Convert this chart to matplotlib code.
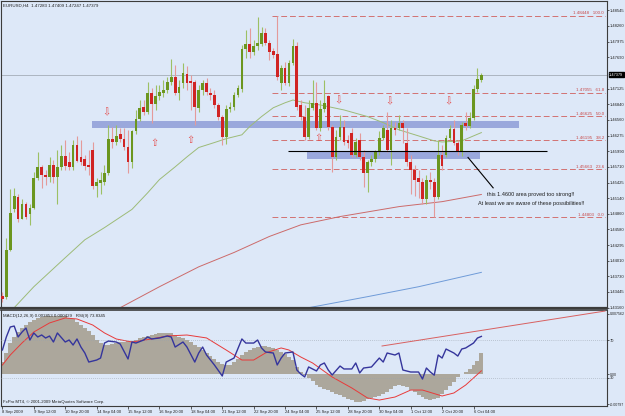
import matplotlib
matplotlib.use("Agg")
import matplotlib.pyplot as plt
import matplotlib.transforms as mtransforms
from matplotlib.patches import Rectangle
import numpy as np

plt.rcParams['font.family'] = ['Liberation Sans', 'DejaVu Sans']

# ---------------- data (EURUSD H4) ----------------
opens = [1.4338, 1.4335, 1.4421, 1.4495, 1.4517, 1.4477, 1.4504, 1.4485, 1.4497, 1.4551,
         1.4571, 1.4557, 1.4553, 1.4575, 1.4553, 1.4571, 1.4591, 1.4580, 1.4571, 1.4611,
         1.4588, 1.4586, 1.4575, 1.4602, 1.4537, 1.4542, 1.4544, 1.4560, 1.4622, 1.4616,
         1.4631, 1.4622, 1.4607, 1.4579, 1.4635, 1.4658, 1.4680, 1.4671, 1.4705, 1.4685,
         1.4700, 1.4705, 1.4710, 1.4725, 1.4734, 1.4705, 1.4723, 1.4739, 1.4727, 1.4725,
         1.4678, 1.4710, 1.4723, 1.4705, 1.4701, 1.4683, 1.4662, 1.4625, 1.4676, 1.4680,
         1.4701, 1.4712, 1.4785, 1.4794, 1.4779, 1.4790, 1.4794, 1.4813, 1.4795, 1.4781,
         1.4775, 1.4723, 1.4750, 1.4723, 1.4759, 1.4790, 1.4683, 1.4662, 1.4625, 1.4678,
         1.4687, 1.4642, 1.4676, 1.4700, 1.4644, 1.4589, 1.4625, 1.4644, 1.4620, 1.4633,
         1.4593, 1.4620, 1.4589, 1.4560, 1.4579, 1.4586, 1.4597, 1.4624, 1.4638, 1.4602,
         1.4642, 1.4642, 1.4651, 1.4615, 1.4579, 1.4566, 1.4550, 1.4544, 1.4513, 1.4548,
         1.4544, 1.4517, 1.4593, 1.4593, 1.4624, 1.4640, 1.4615, 1.4597, 1.4651, 1.4645,
         1.4660, 1.4712, 1.47283]
highs = [1.4344, 1.4443, 1.4530, 1.4533, 1.4521, 1.4512, 1.4508, 1.4503, 1.4562, 1.4598,
         1.4575, 1.4566, 1.4588, 1.4584, 1.4602, 1.4611, 1.4620, 1.4598, 1.4620, 1.4627,
         1.4620, 1.4593, 1.4602, 1.4616, 1.4551, 1.4562, 1.4575, 1.4647, 1.4644, 1.4647,
         1.4642, 1.4642, 1.4638, 1.4638, 1.4674, 1.4692, 1.4692, 1.4725, 1.4714, 1.4719,
         1.4719, 1.4728, 1.4734, 1.4766, 1.4756, 1.4728, 1.4759, 1.4754, 1.4738, 1.4728,
         1.4719, 1.4728, 1.4732, 1.4714, 1.4710, 1.4687, 1.4665, 1.4683, 1.4689, 1.4707,
         1.4719, 1.4792, 1.4819, 1.4822, 1.4801, 1.4842, 1.4824, 1.4822, 1.4801, 1.4786,
         1.48448, 1.4756, 1.4761, 1.4765, 1.4803, 1.4797, 1.4692, 1.4683, 1.4692, 1.4728,
         1.4725, 1.4692, 1.4728, 1.4701, 1.4647, 1.4638, 1.4665, 1.4656, 1.4629, 1.4642,
         1.4624, 1.4633, 1.4602, 1.4584, 1.4593, 1.4602, 1.4635, 1.4647, 1.4671, 1.4656,
         1.4653, 1.4665, 1.4656, 1.4642, 1.4593, 1.4575, 1.4566, 1.4551, 1.4557, 1.4562,
         1.4551, 1.4620, 1.4611, 1.4629, 1.4647, 1.4656, 1.4620, 1.4653, 1.4671, 1.4671,
         1.4719, 1.4750, 1.47409]
lows = [1.4327, 1.4331, 1.4418, 1.4490, 1.4472, 1.4476, 1.4476, 1.4466, 1.4494, 1.4548,
        1.4533, 1.4539, 1.4544, 1.4541, 1.4503, 1.4566, 1.4566, 1.4566, 1.4566, 1.4579,
        1.4575, 1.4566, 1.4557, 1.4530, 1.4517, 1.4521, 1.4539, 1.4557, 1.4606, 1.4611,
        1.4616, 1.4602, 1.4560, 1.4569, 1.4631, 1.4654, 1.4665, 1.4667, 1.4651, 1.4674,
        1.4692, 1.4698, 1.4705, 1.4719, 1.4701, 1.4692, 1.4714, 1.4710, 1.4674, 1.4647,
        1.4671, 1.4701, 1.4701, 1.4692, 1.4678, 1.4656, 1.4611, 1.4613, 1.4671, 1.4674,
        1.4698, 1.4707, 1.4768, 1.4768, 1.4774, 1.4783, 1.4790, 1.4792, 1.4765, 1.4768,
        1.4728, 1.4710, 1.4719, 1.4718, 1.4756, 1.4674, 1.4656, 1.4620, 1.4622, 1.4674,
        1.4638, 1.4635, 1.4671, 1.4638, 1.4562, 1.4584, 1.4620, 1.4611, 1.4606, 1.4588,
        1.4588, 1.4584, 1.4535, 1.4526, 1.4573, 1.4580, 1.4593, 1.4620, 1.4598, 1.4575,
        1.4629, 1.4638, 1.4615, 1.4573, 1.4521, 1.4519, 1.4515, 1.4503, 1.4503, 1.4530,
        1.44803, 1.4513, 1.4566, 1.4588, 1.4620, 1.4611, 1.4593, 1.4591, 1.4638, 1.4642,
        1.4656, 1.4707, 1.47247]
closes = [1.4331, 1.4421, 1.4488, 1.4519, 1.4477, 1.4504, 1.4481, 1.4497, 1.4550, 1.4571,
          1.4557, 1.4553, 1.4575, 1.4553, 1.4571, 1.4591, 1.4573, 1.4571, 1.4611, 1.4582,
          1.4580, 1.4573, 1.4571, 1.4537, 1.4544, 1.4548, 1.4560, 1.4622, 1.4616, 1.4627,
          1.4622, 1.4607, 1.4579, 1.4635, 1.4658, 1.4678, 1.4671, 1.4705, 1.4685, 1.4700,
          1.4707, 1.4710, 1.4725, 1.4734, 1.4705, 1.4716, 1.4741, 1.4723, 1.4723, 1.4680,
          1.4710, 1.4723, 1.4707, 1.4701, 1.4683, 1.4662, 1.4625, 1.4676, 1.4680, 1.4701,
          1.4714, 1.4785, 1.4794, 1.4779, 1.4790, 1.4795, 1.4813, 1.4795, 1.4779, 1.4774,
          1.4734, 1.4750, 1.4723, 1.4759, 1.4790, 1.4680, 1.4662, 1.4625, 1.4678, 1.4687,
          1.4642, 1.4676, 1.4687, 1.4644, 1.4589, 1.4625, 1.4644, 1.4616, 1.4615, 1.4593,
          1.4616, 1.4589, 1.4560, 1.4579, 1.4586, 1.4597, 1.4624, 1.4642, 1.4602, 1.4642,
          1.4638, 1.4651, 1.4642, 1.4579, 1.4566, 1.4548, 1.4544, 1.4513, 1.4548, 1.4544,
          1.4517, 1.4593, 1.4573, 1.4624, 1.4640, 1.4615, 1.4597, 1.4647, 1.4645, 1.4660,
          1.4712, 1.4730, 1.47379]

# moving averages (bar index, price)
ma_green_bars = [3, 8, 15, 21, 26, 33, 37, 40, 44, 47, 50, 54, 57, 61, 63, 66, 69, 72, 74,
                 77, 81, 87, 93, 97, 101, 106, 110, 112, 117, 122]
ma_green = [1.4316, 1.4354, 1.4400, 1.4439, 1.4461, 1.4494, 1.4524, 1.4548, 1.4571, 1.4589,
            1.4606, 1.4615, 1.4622, 1.4629, 1.4644, 1.4662, 1.4678, 1.4687, 1.4692, 1.4687,
            1.4683, 1.4674, 1.4662, 1.4651, 1.4638, 1.4627, 1.4618, 1.4616, 1.4618, 1.4633]
ma_red_bars = [30, 40, 50, 59, 68, 76, 86, 101, 112, 122]
ma_red = [1.4316, 1.4354, 1.4390, 1.4416, 1.4445, 1.4466, 1.4481, 1.4499, 1.4508, 1.4521]
ma_blue_bars = [78, 93, 106, 114, 122]
ma_blue = [1.4316, 1.4336, 1.4354, 1.4367, 1.4380]

# Fibonacci retracement
fib_prices = [1.48448, 1.47055, 1.46625, 1.46195, 1.45663, 1.44803]
fib_labels = ["100.0", "61.8", "50.0", "38.2", "23.6", "0.0"]
fib_start_bar = 68.7

# zones / drawn objects (bar index, price)
zone_upper = dict(b0=22.8, b1=131.6, p0=1.4642, p1=1.4654)
zone_lower = dict(b0=77.6, b1=121.6, p0=1.4586, p1=1.4597)
level_line = dict(b0=72.7, b1=138.7, p=1.4600)
pointer_bars = [118.6, 125.0]
pointer_prices = [1.4588, 1.4533]

down_arrow_bars = [26.6, 85.5, 98.5, 113.5]
down_arrow_prices = [1.4669, 1.4692, 1.4689, 1.4689]
up_arrow_bars = [38.6, 47.8, 80.4]
up_arrow_prices = [1.4615, 1.4620, 1.4624]

y_ticks = [1.48545, 1.48260, 1.47975, 1.47690, 1.47125, 1.46840, 1.46560, 1.46275,
           1.45990, 1.45710, 1.45425, 1.45140, 1.44860, 1.44580, 1.44295, 1.44010,
           1.43730, 1.43445, 1.43160]

x_label_bars = [0, 8, 16, 24, 32, 40, 48, 56, 64, 72, 80, 88, 96, 104, 112, 120]
x_labels = ["8 Sep 2009", "9 Sep 12:00", "10 Sep 20:00", "14 Sep 04:00", "15 Sep 12:00",
            "16 Sep 20:00", "18 Sep 04:00", "21 Sep 12:00", "22 Sep 20:00", "24 Sep 04:00",
            "25 Sep 12:00", "28 Sep 20:00", "30 Sep 04:00", "1 Oct 12:00", "2 Oct 20:00",
            "6 Oct 04:00"]

# MACD histogram (one per bar) and signal line
macd_hist = [0.00163, 0.00286, 0.00422, 0.00503, 0.00571, 0.00626, 0.00666, 0.00707, 0.00734, 0.00762,
             0.00775, 0.00789, 0.00789, 0.00789, 0.00789, 0.00789, 0.00789, 0.00762, 0.00748, 0.00707,
             0.00666, 0.00626, 0.00585, 0.0053, 0.00462, 0.00422, 0.00394, 0.00394, 0.00408, 0.00422,
             0.00435, 0.00435, 0.00449, 0.00449, 0.00462, 0.0049, 0.00503, 0.00517, 0.0053, 0.00544,
             0.00558, 0.00558, 0.00558, 0.00558, 0.0053, 0.00503, 0.0049, 0.00462, 0.00435, 0.00394,
             0.00367, 0.00326, 0.00286, 0.00245, 0.00204, 0.00163, 0.00136, 0.00122, 0.00122, 0.00163,
             0.00204, 0.00258, 0.00299, 0.00326, 0.00354, 0.00367, 0.00381, 0.00381, 0.00367, 0.00354,
             0.00326, 0.00299, 0.00272, 0.00231, 0.0019, 0.00095, 0.00027, -0.00014, -0.00054, -0.00095,
             -0.0015, -0.00177, -0.00204, -0.00218, -0.00245, -0.00272, -0.00286, -0.00313, -0.0034, -0.00354,
             -0.00381, -0.00381, -0.00367, -0.0034, -0.00326, -0.00313, -0.00299, -0.00272, -0.00245, -0.00204,
             -0.00163, -0.0015, -0.00163, -0.00177, -0.00218, -0.00245, -0.00286, -0.00313, -0.0034, -0.00354,
             -0.0034, -0.00326, -0.00272, -0.00218, -0.00163, -0.00109, -0.00041, 0.0, 0.00027, 0.00068,
             0.00122, 0.00177, 0.00286]
signal_bars = [0, 2, 5, 8, 12, 16, 19, 23, 26, 29, 33, 38, 42, 47, 52, 57, 61, 64, 67, 71, 73,
               76, 79, 84, 89, 93, 96, 100, 104, 107, 112, 115, 118, 122]
signal = [0.00122, 0.00258, 0.00422, 0.00571, 0.00694, 0.00762, 0.00748, 0.00666, 0.00558,
          0.00476, 0.00435, 0.00476, 0.00517, 0.0053, 0.0049, 0.00326, 0.0019, 0.0019, 0.00286,
          0.00354, 0.00326, 0.00231, 0.0015, -0.00041, -0.0019, -0.00326, -0.00354, -0.00313,
          -0.00218, -0.00218, -0.00299, -0.00258, -0.0015, 0.00043]

# RSI(9)
rsi_bars = [0, 1, 2, 3, 4, 5, 6, 7, 8, 9, 10, 11, 12, 13, 14, 16, 17, 18, 19, 20, 21, 22, 24, 25,
            26, 27, 29, 30, 32, 33, 34, 36, 37, 38, 40, 41, 42, 43, 44, 46, 47, 49, 50, 51, 52,
            54, 56, 57, 59, 61, 62, 64, 65, 66, 67, 69, 70, 71, 72, 74, 75, 76, 77, 78, 80, 81,
            82, 83, 84, 86, 87, 89, 90, 91, 92, 94, 96, 97, 98, 100, 101, 102, 104, 106, 107,
            108, 109, 110, 111, 112, 113, 115, 116, 117, 118, 120, 121, 122]
rsi = [59.5, 73.2, 83.7, 84.7, 73.2, 78.4, 82.6, 70.0, 77.4, 73.2, 75.3, 72.1, 74.2, 67.9, 77.4,
       67.9, 70.0, 64.7, 71.1, 62.6, 56.3, 46.8, 48.9, 51.0, 66.8, 68.9, 67.9, 65.8, 50.0, 67.9,
       66.8, 70.0, 73.2, 71.1, 72.1, 73.2, 74.2, 73.2, 62.6, 67.9, 62.6, 46.8, 56.3, 62.6, 54.2,
       43.7, 32.1, 46.8, 51.0, 71.1, 66.8, 66.8, 70.0, 61.6, 57.4, 56.3, 43.7, 51.0, 56.3, 57.4,
       38.4, 34.2, 31.1, 41.6, 37.4, 43.7, 45.8, 38.4, 33.2, 42.6, 39.5, 39.5, 45.8, 35.3, 40.5,
       41.6, 51.0, 46.8, 56.3, 54.2, 56.3, 38.4, 36.3, 36.3, 28.9, 40.5, 36.3, 33.0, 54.2, 51.0,
       60.5, 56.3, 53.1, 60.5, 61.6, 66.8, 72.1, 73.8]
rsi_trend_bars = [96.7, 153.5]
rsi_trend = [63.7, 100.5]
rsi_levels = [70, 30]

title_main = "EURUSD,H4  1.47283 1.47409 1.47247 1.47379"
title_ind = "MACD(12,26,9) 0.002853 0.000429   RSI(9) 73.8345"
copyright_txt = "FxPro MT4, \u00a9 2001-2009 MetaQuotes Software Corp."
note1 = "this 1.4600 area proved too strong!!"
note2 = "At least we are aware of these possibilities!!"

# ---------------- styling ----------------
BG = '#dde8f8'
GREEN, GREEN_W = '#6b961f', '#9cc064'
RED, RED_W = '#d02424', '#e49a9a'
FRAME = '#3c3c3c'

W, H = 625.0, 416.0
def box(l, t, r, b):
    return [l / W, 1 - b / H, (r - l) / W, (b - t) / H]

fig = plt.figure(figsize=(6.25, 4.16), dpi=100, facecolor=BG)
ax = fig.add_axes(box(1, 1, 607, 308), facecolor=BG)
axm = fig.add_axes(box(1, 310, 607, 406), facecolor=BG)
axr = axm.twinx()

XL = (-0.36, 154.0)

# ---- main chart ----
n = len(opens)
bars = np.arange(n)
o = np.array(opens); c = np.array(closes)
bull = c >= o
ax.axhline(closes[-1], color='#a4adb8', lw=0.6, zorder=1)
for z in (zone_upper, zone_lower):
    ax.add_patch(Rectangle((z['b0'], z['p0']), z['b1'] - z['b0'], z['p1'] - z['p0'],
                           facecolor='#9aa8dc', edgecolor='none', zorder=1.5))
ax.hlines(fib_prices, fib_start_bar, XL[1] - 0.5, colors='#d27272', lw=0.7,
          linestyles=(0, (6, 3)), zorder=2)
for p, lab in zip(fib_prices, fib_labels):
    ax.text(XL[1] - 0.8, p + 0.00008, f"{p:.5f}   {lab}", ha='right', va='bottom',
            fontsize=3.2, color='#c84848', zorder=5)

ax.plot(ma_green_bars, ma_green, color='#9dbb78', lw=0.7, zorder=2.5)
ax.plot(ma_red_bars, ma_red, color='#cc6a6a', lw=0.7, zorder=2.5)
ax.plot(ma_blue_bars, ma_blue, color='#6f9bd8', lw=0.7, zorder=2.5)

ax.vlines(bars, lows, highs, colors=[GREEN_W if b else RED_W for b in bull], lw=0.8, zorder=3)
ax.bar(bars, np.maximum(np.abs(c - o), 0.00005), width=0.7, bottom=np.minimum(o, c),
       color=[GREEN if b else RED for b in bull], linewidth=0, zorder=4)

ax.hlines(level_line['p'], level_line['b0'], level_line['b1'], colors='black', lw=0.8, zorder=5)
ax.plot(pointer_bars, pointer_prices, color='black', lw=0.8, zorder=5)

for b, p in zip(down_arrow_bars, down_arrow_prices):
    ax.text(b, p, '\u21e9', ha='center', va='center', fontsize=7, color='#e45050',
            family='DejaVu Sans', zorder=6)
for b, p in zip(up_arrow_bars, up_arrow_prices):
    ax.text(b, p, '\u21e7', ha='center', va='center', fontsize=7, color='#e45050',
            family='DejaVu Sans', zorder=6)

ax.text(123.4, 1.4521, note1, fontsize=4.0, ha='left', va='center', color='#202020', zorder=6)
ax.text(121.1, 1.4504, note2, fontsize=4.0, ha='left', va='center', color='#202020', zorder=6)

ax.set_xlim(*XL)
ax.set_ylim(1.43155, 1.48712)
ax.set_xticks([])
ax.yaxis.tick_right()
ax.set_yticks(y_ticks)
ax.set_yticklabels([f"{v:.5f}" for v in y_ticks])
ax.tick_params(axis='y', direction='out', length=1.5, width=0.5, pad=0.6, labelsize=2.95,
               colors='#202020')
for s in ax.spines.values():
    s.set_color(FRAME); s.set_linewidth(0.8)
ax.spines['bottom'].set_linewidth(1.6)

trans = mtransforms.blended_transform_factory(ax.transAxes, ax.transData)
ax.text(1.0035, closes[-1], f"{closes[-1]:.5f}", transform=trans, ha='left', va='center',
        fontsize=2.8, color='white', clip_on=False, zorder=10,
        bbox=dict(boxstyle='square,pad=0.12', fc='black', ec='black'))
ax.text(0.004, 0.993, title_main, transform=ax.transAxes, ha='left', va='top',
        fontsize=3.2, color='#202020')

# ---- indicator window ----
axm.bar(bars, macd_hist, width=1.0, color='#aca79c', linewidth=0, zorder=1)
axm.plot(signal_bars, signal, color='#e83a3a', lw=0.7, zorder=2)
axm.set_xlim(*XL)
axm.set_ylim(-0.00435, 0.0087)
axm.yaxis.tick_right()
axm.set_yticks([0.00816, 0.0, -0.00408])
axm.set_yticklabels(["0.007562", "0.00", "-0.00797"])
axm.tick_params(axis='y', direction='out', length=1.5, width=0.5, pad=0.6, labelsize=2.6,
                colors='#202020')
axm.set_xticks(x_label_bars)
axm.set_xticklabels(x_labels)
for t in axm.get_xticklabels():
    t.set_ha('left')
axm.tick_params(axis='x', direction='out', length=2, width=0.5, pad=1, labelsize=3.0,
                colors='#202020')
for s in axm.spines.values():
    s.set_color(FRAME); s.set_linewidth(0.8)
axm.spines['top'].set_linewidth(1.2)

axr.hlines(rsi_levels, XL[0], XL[1], colors='#9aa3ad', lw=0.5, linestyles=(0, (1, 2)), zorder=1)
axr.plot(rsi_bars, rsi, color='#35359c', lw=1.0, zorder=3)
axr.plot(rsi_trend_bars, rsi_trend, color='#d86060', lw=0.7, zorder=3)
axr.set_ylim(0.5, 101.6)
axr.set_xlim(*XL)
axr.set_yticks(rsi_levels)
axr.set_yticklabels([str(v) for v in rsi_levels])
axr.tick_params(axis='y', direction='out', length=1.5, width=0.5, pad=0.6, labelsize=2.9,
                colors='#202020')
for s in axr.spines.values():
    s.set_visible(False)
axr.text(0.004, 0.96, title_ind, transform=axr.transAxes, ha='left', va='top',
         fontsize=3.2, color='#202020')
axr.text(0.004, 0.02, copyright_txt, transform=axr.transAxes, ha='left', va='bottom',
         fontsize=3.1, color='#202020')

fig.savefig("out.png", dpi=100, facecolor=BG)
